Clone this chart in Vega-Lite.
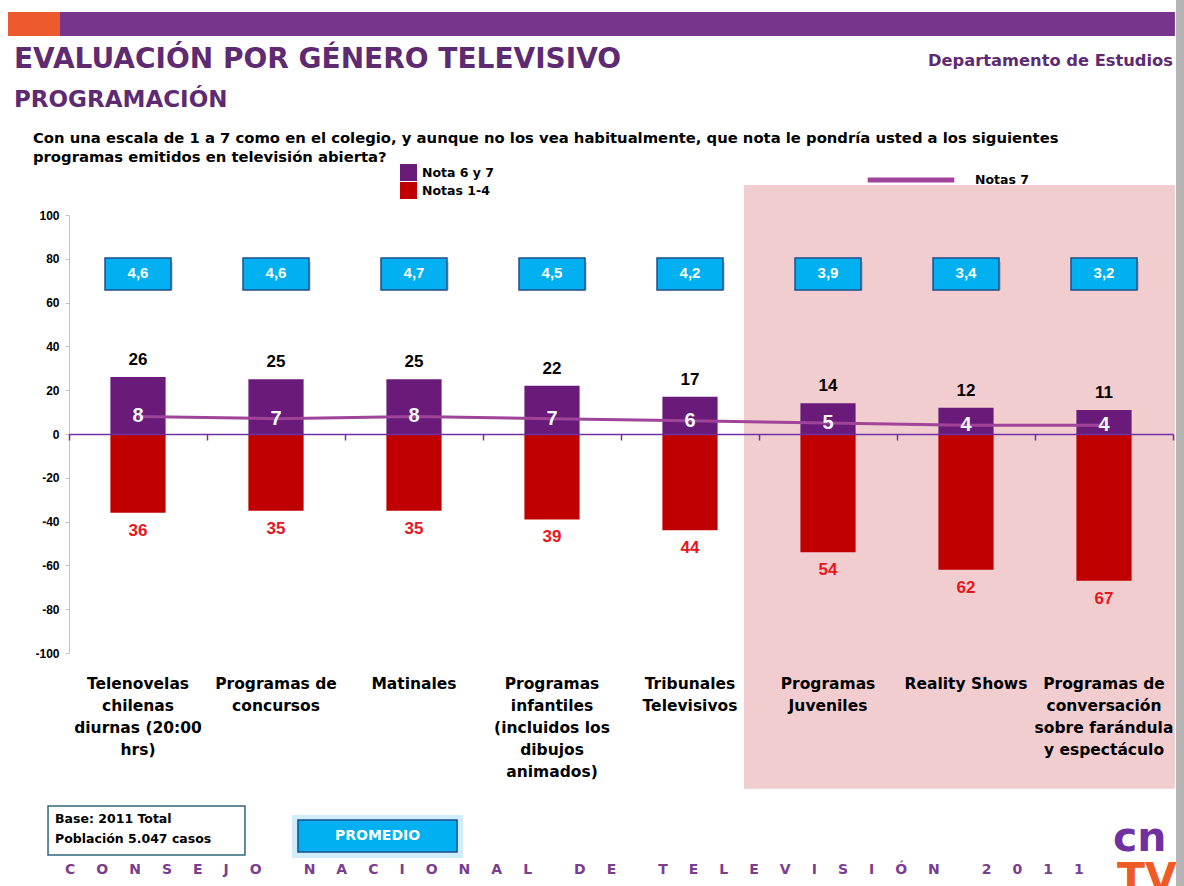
{
  "$schema": "https://vega.github.io/schema/vega-lite/v6.json",
  "width": 1104,
  "height": 438,
  "autosize": "none",
  "padding": {"left": 69, "top": 215, "right": 11, "bottom": 233},
  "background": "#ffffff",
  "config": {"view": {"stroke": null}, "axis": {"grid": false}},
  "datasets": {
    "barras": [
      {"programa": "Telenovelas\nchilenas\ndiurnas (20:00\nhrs)", "serie": "Nota 6 y 7", "valor": 26},
      {"programa": "Telenovelas\nchilenas\ndiurnas (20:00\nhrs)", "serie": "Notas 1-4", "valor": -36},
      {"programa": "Programas de\nconcursos", "serie": "Nota 6 y 7", "valor": 25},
      {"programa": "Programas de\nconcursos", "serie": "Notas 1-4", "valor": -35},
      {"programa": "Matinales", "serie": "Nota 6 y 7", "valor": 25},
      {"programa": "Matinales", "serie": "Notas 1-4", "valor": -35},
      {"programa": "Programas\ninfantiles\n(incluidos los\ndibujos\nanimados)", "serie": "Nota 6 y 7", "valor": 22},
      {"programa": "Programas\ninfantiles\n(incluidos los\ndibujos\nanimados)", "serie": "Notas 1-4", "valor": -39},
      {"programa": "Tribunales\nTelevisivos", "serie": "Nota 6 y 7", "valor": 17},
      {"programa": "Tribunales\nTelevisivos", "serie": "Notas 1-4", "valor": -44},
      {"programa": "Programas\nJuveniles", "serie": "Nota 6 y 7", "valor": 14},
      {"programa": "Programas\nJuveniles", "serie": "Notas 1-4", "valor": -54},
      {"programa": "Reality Shows", "serie": "Nota 6 y 7", "valor": 12},
      {"programa": "Reality Shows", "serie": "Notas 1-4", "valor": -62},
      {"programa": "Programas de\nconversación\nsobre farándula\ny espectáculo", "serie": "Nota 6 y 7", "valor": 11},
      {"programa": "Programas de\nconversación\nsobre farándula\ny espectáculo", "serie": "Notas 1-4", "valor": -67}
    ],
    "programas": [
      {"programa": "Telenovelas\nchilenas\ndiurnas (20:00\nhrs)", "notas7": 8, "promedio": "4,6"},
      {"programa": "Programas de\nconcursos", "notas7": 7, "promedio": "4,6"},
      {"programa": "Matinales", "notas7": 8, "promedio": "4,7"},
      {"programa": "Programas\ninfantiles\n(incluidos los\ndibujos\nanimados)", "notas7": 7, "promedio": "4,5"},
      {"programa": "Tribunales\nTelevisivos", "notas7": 6, "promedio": "4,2"},
      {"programa": "Programas\nJuveniles", "notas7": 5, "promedio": "3,9"},
      {"programa": "Reality Shows", "notas7": 4, "promedio": "3,4"},
      {"programa": "Programas de\nconversación\nsobre farándula\ny espectáculo", "notas7": 4, "promedio": "3,2"}
    ]
  },
  "resolve": {"scale": {"x": "independent", "y": "independent"}, "axis": {"x": "independent", "y": "independent"}},
  "layer": [
    {
      "data": {"values": [{}]},
      "layer": [
        {
          "mark": {"type": "rect", "fill": "#f2cdd0"},
          "encoding": {
            "x": {"datum": 5.391, "type": "quantitative", "scale": {"domain": [0.5, 8.5], "nice": false, "zero": false},
              "axis": {"orient": "bottom", "offset": -219, "values": [0.5, 1.5, 2.5, 3.5, 4.5, 5.5, 6.5, 7.5, 8.5], "labels": false, "title": null, "domainColor": "#7030a0", "domainWidth": 1.5, "tickColor": "#7030a0", "tickSize": 6, "tickWidth": 1.5, "grid": false, "zindex": 1}},
            "x2": {"datum": 8.514},
            "y": {"datum": 113.7, "type": "quantitative", "scale": {"domain": [-100, 100], "nice": false, "zero": false},
              "axis": {"orient": "left", "title": null, "values": [-100, -90, -80, -70, -60, -50, -40, -30, -20, -10, 0, 10, 20, 30, 40, 50, 60, 70, 80, 90, 100], "labelExpr": "datum.value", "labelOverlap": false, "domainColor": "#c4c4c4", "tickColor": "#c4c4c4", "tickSize": 4, "labelFontSize": 12, "labelFontWeight": "bold", "labelColor": "#000000", "labelPadding": 6}},
            "y2": {"datum": -162}
          }
        },
        {
          "mark": {"type": "rect", "fill": "#ec5a2e"},
          "encoding": {
            "x": {"datum": 0.058, "type": "quantitative"},
            "x2": {"datum": 0.435},
            "y": {"datum": 192.7, "type": "quantitative"},
            "y2": {"datum": 181.7}
          }
        },
        {
          "mark": {"type": "rect", "fill": "#77368b"},
          "encoding": {
            "x": {"datum": 0.435, "type": "quantitative"},
            "x2": {"datum": 8.514},
            "y": {"datum": 192.7, "type": "quantitative"},
            "y2": {"datum": 181.7}
          }
        }
      ]
    },
    {
      "resolve": {"axis": {"x": "independent"}},
      "layer": [
        {
          "data": {"name": "barras"},
          "mark": {"type": "bar"},
          "encoding": {
            "x": {
              "field": "programa", "type": "nominal", "sort": null,
              "scale": {"paddingInner": 0.6, "paddingOuter": 0.3},
              "axis": null
            },
            "y": {
              "field": "valor", "type": "quantitative",
              "scale": {"domain": [-100, 100], "nice": false, "zero": false},
              "axis": null
            },
            "color": {
              "field": "serie", "type": "nominal",
              "scale": {"domain": ["Nota 6 y 7", "Notas 1-4"], "range": ["#6a1b7a", "#c00000"]},
              "legend": {"orient": "none", "legendX": 331, "legendY": -51, "title": null, "padding": 0, "symbolType": "square", "symbolSize": 289, "symbolStrokeWidth": 0, "rowPadding": 1, "labelOffset": 5, "labelFont": "DejaVu Sans", "labelFontSize": 12.5, "labelFontWeight": "bold", "labelColor": "#000000"}
            }
          }
        },
        {
          "data": {"name": "programas"},
          "mark": {"type": "bar", "width": 66, "xOffset": 2, "yOffset": 4, "fill": "#6d6d6d", "opacity": 0.3},
          "encoding": {
            "x": {"field": "programa", "type": "nominal", "sort": null, "axis": null},
            "y": {"datum": 80.4, "type": "quantitative", "axis": null},
            "y2": {"datum": 65.75}
          }
        },
        {
          "data": {"name": "programas"},
          "mark": {"type": "bar", "width": 66, "fill": "#00b0f0", "stroke": "#1f4e8c", "strokeWidth": 1.5},
          "encoding": {
            "x": {"field": "programa", "type": "nominal", "sort": null, "axis": null},
            "y": {"datum": 80.4, "type": "quantitative", "axis": null},
            "y2": {"datum": 65.75}
          }
        },
        {
          "data": {"name": "programas"},
          "mark": {"type": "text", "font": "Liberation Sans", "fontSize": 15, "fontWeight": "bold", "color": "#ffffff", "baseline": "middle", "align": "center"},
          "encoding": {
            "x": {
              "field": "programa", "type": "nominal", "sort": null,
              "axis": {"orient": "bottom", "domain": false, "ticks": false, "title": null, "labelExpr": "split(datum.label, '\\n')", "labelFont": "DejaVu Sans", "labelFontSize": 15.5, "labelFontWeight": "bold", "labelColor": "#000000", "labelLineHeight": 22, "labelPadding": 23, "labelAngle": 0, "labelLimit": 0, "labelOverlap": false, "labelBound": false, "labelBaseline": "top", "zindex": 1}
            },
            "y": {"datum": 73.5, "type": "quantitative", "axis": null},
            "text": {"field": "promedio"}
          }
        },
        {
          "data": {"name": "programas"},
          "mark": {"type": "line", "strokeWidth": 3},
          "encoding": {
            "x": {"field": "programa", "type": "nominal", "sort": null, "axis": null},
            "y": {"field": "notas7", "type": "quantitative", "axis": null},
            "stroke": {
              "datum": "Notas 7", "type": "nominal",
              "scale": {"domain": ["Notas 7"], "range": ["#a0449a"]},
              "legend": {"orient": "none", "legendX": 796, "legendY": -81, "title": null, "padding": 0, "symbolType": "stroke", "symbolSize": 7500, "symbolStrokeWidth": 5, "labelOffset": 18, "labelFont": "DejaVu Sans", "labelFontSize": 12.5, "labelFontWeight": "bold", "labelColor": "#000000"}
            }
          }
        },
        {
          "data": {"name": "barras"},
          "transform": [{"filter": "datum.serie == 'Nota 6 y 7'"}],
          "mark": {"type": "text", "font": "Liberation Sans", "fontSize": 17, "fontWeight": "bold", "color": "#000000", "baseline": "bottom", "dy": -8},
          "encoding": {
            "x": {"field": "programa", "type": "nominal", "sort": null, "axis": null},
            "y": {"field": "valor", "type": "quantitative", "axis": null},
            "text": {"field": "valor"}
          }
        },
        {
          "data": {"name": "barras"},
          "transform": [{"filter": "datum.serie == 'Notas 1-4'"}, {"calculate": "abs(datum.valor)", "as": "etiqueta"}],
          "mark": {"type": "text", "font": "Liberation Sans", "fontSize": 17, "fontWeight": "bold", "color": "#e8161c", "baseline": "top", "dy": 10},
          "encoding": {
            "x": {"field": "programa", "type": "nominal", "sort": null, "axis": null},
            "y": {"field": "valor", "type": "quantitative", "axis": null},
            "text": {"field": "etiqueta"}
          }
        },
        {
          "data": {"name": "programas"},
          "mark": {"type": "text", "font": "Liberation Sans", "fontSize": 20, "fontWeight": "bold", "color": "#eef8fc", "baseline": "middle"},
          "encoding": {
            "x": {"field": "programa", "type": "nominal", "sort": null, "axis": null},
            "y": {"field": "notas7", "type": "quantitative", "axis": null},
            "text": {"field": "notas7"}
          }
        }
      ]
    },
    {
      "data": {"values": [{}]},
      "layer": [
        {
          "mark": {"type": "text", "font": "DejaVu Sans", "fontSize": 28, "fontWeight": "bold", "color": "#5e2a72", "align": "left", "baseline": "middle", "text": "EVALUACIÓN POR GÉNERO TELEVISIVO"},
          "encoding": {
            "x": {"datum": 0.1014, "type": "quantitative", "scale": {"domain": [0.5, 8.5], "nice": false, "zero": false}, "axis": null},
            "y": {"datum": 170.8, "type": "quantitative", "scale": {"domain": [-100, 100], "nice": false, "zero": false}, "axis": null}
          }
        },
        {
          "mark": {"type": "text", "font": "DejaVu Sans", "fontSize": 23, "fontWeight": "bold", "color": "#5e2a72", "align": "left", "baseline": "middle", "text": "PROGRAMACIÓN"},
          "encoding": {
            "x": {"datum": 0.1014, "type": "quantitative"},
            "y": {"datum": 152.5, "type": "quantitative", "axis": null}
          }
        },
        {
          "mark": {"type": "text", "font": "DejaVu Sans", "fontSize": 16.3, "fontWeight": "bold", "color": "#5e2a72", "align": "left", "baseline": "middle", "text": "Departamento de Estudios"},
          "encoding": {
            "x": {"datum": 6.725, "type": "quantitative"},
            "y": {"datum": 170.5, "type": "quantitative", "axis": null}
          }
        },
        {
          "mark": {"type": "text", "font": "DejaVu Sans", "fontSize": 14.8, "fontWeight": "bold", "color": "#000000", "align": "left", "baseline": "top", "lineHeight": 19, "text": ["Con una escala de 1 a 7 como en el colegio, y aunque no los vea habitualmente, que nota le pondría usted a los siguientes", "programas emitidos en televisión abierta?"]},
          "encoding": {
            "x": {"datum": 0.239, "type": "quantitative"},
            "y": {"datum": 138.4, "type": "quantitative", "axis": null}
          }
        },
        {
          "mark": {"type": "rect", "fill": "#ffffff", "stroke": "#31667a", "strokeWidth": 1.5},
          "encoding": {
            "x": {"datum": 0.348, "type": "quantitative"},
            "x2": {"datum": 1.775},
            "y": {"datum": -169.9, "type": "quantitative", "axis": null},
            "y2": {"datum": -192.2}
          }
        },
        {
          "mark": {"type": "text", "font": "DejaVu Sans", "fontSize": 12.5, "fontWeight": "bold", "color": "#000000", "align": "left", "baseline": "top", "lineHeight": 20, "text": ["Base: 2011 Total", "Población 5.047 casos"]},
          "encoding": {
            "x": {"datum": 0.399, "type": "quantitative"},
            "y": {"datum": -173.1, "type": "quantitative", "axis": null}
          }
        },
        {
          "mark": {"type": "rect", "fill": "#9fdcf7", "opacity": 0.5},
          "encoding": {
            "x": {"datum": 2.116, "type": "quantitative"},
            "x2": {"datum": 3.355},
            "y": {"datum": -174.0, "type": "quantitative", "axis": null},
            "y2": {"datum": -193.6}
          }
        },
        {
          "mark": {"type": "rect", "fill": "#00b0f0", "stroke": "#1f4e8c", "strokeWidth": 1.5},
          "encoding": {
            "x": {"datum": 2.159, "type": "quantitative"},
            "x2": {"datum": 3.312},
            "y": {"datum": -176.3, "type": "quantitative", "axis": null},
            "y2": {"datum": -190.9}
          }
        },
        {
          "mark": {"type": "text", "font": "DejaVu Sans", "fontSize": 14, "fontWeight": "bold", "color": "#ffffff", "align": "center", "baseline": "middle", "text": "PROMEDIO"},
          "encoding": {
            "x": {"datum": 2.736, "type": "quantitative"},
            "y": {"datum": -183.6, "type": "quantitative", "axis": null}
          }
        },
        {
          "mark": {"type": "text", "font": "DejaVu Sans", "fontSize": 14, "fontWeight": "bold", "color": "#7a3d8f", "align": "left", "baseline": "middle", "text": "C\u2003\u2002O\u2003\u2002N\u2003\u2002S\u2003\u2002E\u2003\u2002J\u2003\u2002O\u2003\u2003\u2003N\u2003\u2002A\u2003\u2002C\u2003\u2002I\u2003\u2002O\u2003\u2002N\u2003\u2002A\u2003\u2002L\u2003\u2003\u2003D\u2003\u2002E\u2003\u2003\u2003T\u2003\u2002E\u2003\u2002L\u2003\u2002E\u2003\u2002V\u2003\u2002I\u2003\u2002S\u2003\u2002I\u2003\u2002Ó\u2003\u2002N\u2003\u2003\u20032\u2003\u20020\u2003\u20021\u2003\u20021"},
          "encoding": {
            "x": {"datum": 0.471, "type": "quantitative"},
            "y": {"datum": -199.1, "type": "quantitative", "axis": null}
          }
        },
        {
          "mark": {"type": "text", "font": "DejaVu Sans", "fontSize": 41, "fontWeight": "bold", "color": "#7030a0", "align": "left", "baseline": "alphabetic", "text": "cn"},
          "encoding": {
            "x": {"datum": 8.065, "type": "quantitative"},
            "y": {"datum": -190.5, "type": "quantitative", "axis": null}
          }
        },
        {
          "mark": {"type": "text", "font": "DejaVu Sans", "fontSize": 41, "fontWeight": "bold", "color": "#f05a24", "align": "left", "baseline": "alphabetic", "text": "TV"},
          "encoding": {
            "x": {"datum": 8.094, "type": "quantitative"},
            "y": {"datum": -209, "type": "quantitative", "axis": null}
          }
        },
        {
          "mark": {"type": "rect", "fill": "#b4b4b4"},
          "encoding": {
            "x": {"datum": 8.522, "type": "quantitative"},
            "x2": {"datum": 8.6},
            "y": {"datum": 198.2, "type": "quantitative", "axis": null},
            "y2": {"datum": -206.4}
          }
        }
      ]
    }
  ]
}
